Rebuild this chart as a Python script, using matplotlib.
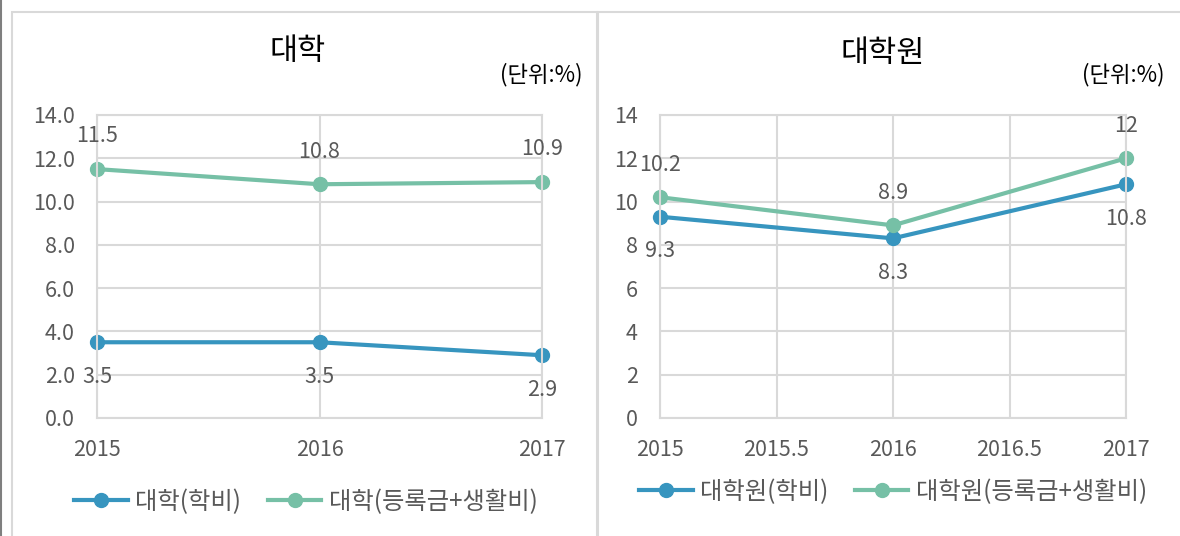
import matplotlib
matplotlib.use("Agg")
import matplotlib.pyplot as plt
from matplotlib.patches import Rectangle
from matplotlib.lines import Line2D

plt.rcParams['font.family'] = ['Noto Sans CJK KR', 'DejaVu Sans']

years = [2015, 2016, 2017]

# 대학
univ_fee = [3.5, 3.5, 2.9]
univ_total = [11.5, 10.8, 10.9]
univ_labels = ["대학(학비)", "대학(등록금+생활비)"]
yticks = [0, 2, 4, 6, 8, 10, 12, 14]

# 대학원
grad_fee = [9.3, 8.3, 10.8]
grad_total = [10.2, 8.9, 12]
grad_labels = ["대학원(학비)", "대학원(등록금+생활비)"]
grad_xticks = [2015, 2015.5, 2016, 2016.5, 2017]

BLUE = "#3795BF"
GREEN = "#76C0A6"
TEXT = "#595959"
GRID = "#D9D9D9"

W, H = 1180, 536
fig = plt.figure(figsize=(W / 100, H / 100), dpi=100)


def px(x0, y0, x1, y1):
    # pixel box (top-left origin) -> figure fraction rect
    return [x0 / W, 1 - y1 / H, (x1 - x0) / W, (y1 - y0) / H]


# panel frames
fig.patches.append(Rectangle((12 / W, -0.01), 585 / W, 1 - 12 / H + 0.01, transform=fig.transFigure,
                             fill=False, edgecolor=GRID, lw=1.5))
fig.patches.append(Rectangle((598 / W, -0.01), 590 / W, 1 - 12 / H + 0.01, transform=fig.transFigure,
                             fill=False, edgecolor=GRID, lw=1.5))
fig.add_artist(Line2D([1 / W, 1 / W], [0, 1], transform=fig.transFigure, color="#7F7F7F", lw=1.5))


def style(ax):
    ax.set_ylim(0, 14)
    ax.set_xlim(2015, 2017)
    ax.grid(True, color=GRID, lw=1.5)
    ax.set_axisbelow(True)
    for s in ax.spines.values():
        s.set_color(GRID)
        s.set_linewidth(1.5)
    ax.tick_params(axis="x", length=0, labelsize=15.5, labelcolor=TEXT, pad=15)
    ax.tick_params(axis="y", length=0, labelsize=15.5, labelcolor=TEXT, pad=16)


def draw(ax, fee, total, labels):
    ax.plot(years, fee, color=BLUE, lw=3, marker="o", ms=10, label=labels[0], clip_on=False)
    ax.plot(years, total, color=GREEN, lw=3, marker="o", ms=10, label=labels[1], clip_on=False)
    for x, y in zip(years, fee):
        ax.annotate(f"{y:g}", (x, y), xytext=(0, -25), textcoords="offset points",
                    ha="center", va="center", fontsize=15.5, color=TEXT, annotation_clip=False)
    for x, y in zip(years, total):
        ax.annotate(f"{y:g}", (x, y), xytext=(0, 23.5), textcoords="offset points",
                    ha="center", va="center", fontsize=15.5, color=TEXT, annotation_clip=False)


def legend(ax, cx, cy):
    ax.legend(loc="center", bbox_to_anchor=(cx / W, 1 - cy / H), bbox_transform=fig.transFigure,
              ncol=2, frameon=False, fontsize=17.5, labelcolor=TEXT, handlelength=2.2,
              columnspacing=1.1, handletextpad=0.3, borderpad=0, borderaxespad=0)


# left panel
ax1 = fig.add_axes(px(97, 115, 542, 418))
style(ax1)
ax1.set_xticks(years)
ax1.set_yticks(yticks)
ax1.set_yticklabels([f"{v:.1f}" for v in yticks])
draw(ax1, univ_fee, univ_total, univ_labels)
fig.text(298 / W, 1 - 51 / H, "대학", ha="center", va="center", fontsize=22, color="black")
fig.text(582 / W, 1 - 75 / H, "(단위:%)", ha="right", va="center", fontsize=16, color="black")
legend(ax1, 306, 502)

# right panel
ax2 = fig.add_axes(px(660, 115, 1126, 418))
style(ax2)
ax2.set_xticks(grad_xticks)
ax2.set_xticklabels([f"{v:g}" for v in grad_xticks])
ax2.set_yticks(yticks)
draw(ax2, grad_fee, grad_total, grad_labels)
fig.text(883 / W, 1 - 53 / H, "대학원", ha="center", va="center", fontsize=22, color="black")
fig.text(1164 / W, 1 - 75 / H, "(단위:%)", ha="right", va="center", fontsize=16, color="black")
legend(ax2, 893, 492)

fig.savefig("out.png", dpi=100)
